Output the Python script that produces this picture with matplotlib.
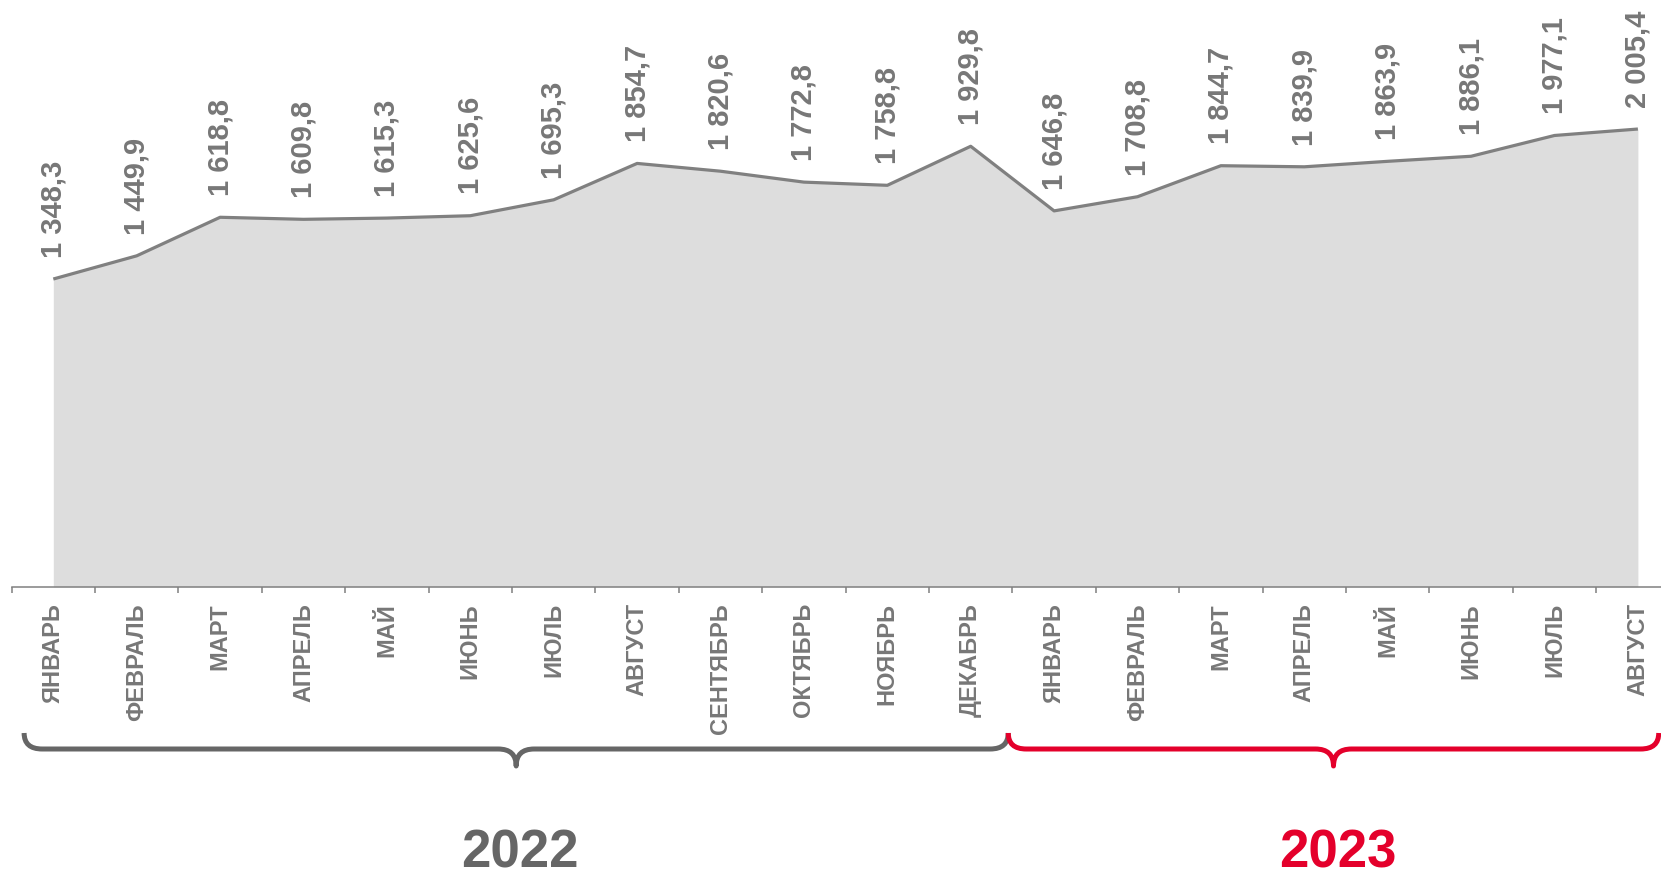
import matplotlib
matplotlib.use("Agg")
from matplotlib import pyplot as plt
from matplotlib.path import Path
from matplotlib.patches import PathPatch

plt.rcParams['font.family'] = ['Liberation Sans', 'DejaVu Sans']

# data
months = ["ЯНВАРЬ", "ФЕВРАЛЬ", "МАРТ", "АПРЕЛЬ", "МАЙ", "ИЮНЬ", "ИЮЛЬ", "АВГУСТ",
          "СЕНТЯБРЬ", "ОКТЯБРЬ", "НОЯБРЬ", "ДЕКАБРЬ",
          "ЯНВАРЬ", "ФЕВРАЛЬ", "МАРТ", "АПРЕЛЬ", "МАЙ", "ИЮНЬ", "ИЮЛЬ", "АВГУСТ"]
values = [1348.3, 1449.9, 1618.8, 1609.8, 1615.3, 1625.6, 1695.3, 1854.7,
          1820.6, 1772.8, 1758.8, 1929.8,
          1646.8, 1708.8, 1844.7, 1839.9, 1863.9, 1886.1, 1977.1, 2005.4]
years = ["2022", "2023"]
year_spans = [(-0.35, 11.45), (11.45, 19.25)]   # in category units

W, H = 1661, 878
GRAY_TXT = "#777777"
LINE_C = "#808080"
FILL_C = "#dddddd"
YEAR_COLORS = ["#666666", "#e4002b"]


def fmt(v):
    s = "{:,.1f}".format(v)
    return s.replace(",", " ").replace(".", ",")


fig = plt.figure(figsize=(W / 100, H / 100), dpi=100)
ax = fig.add_axes([11.6 / W, (H - 587.8) / H, 20 * 83.4 / W, 587.8 / H])

x = list(range(len(values)))
ax.fill_between(x, 0, values, color=FILL_C, lw=0, zorder=1)
ax.plot(x, values, color=LINE_C, lw=2.3, zorder=2, solid_capstyle="butt")

for xi, v in zip(x, values):
    ax.annotate(fmt(v), (xi, v), xytext=(0, 16), textcoords="offset points",
                rotation=90, ha="center", va="bottom", fontsize=21,
                fontweight="bold", color=GRAY_TXT)

ax.set_xlim(-0.5, len(values) - 0.5)
ax.set_ylim(0, 2575)
ax.set_yticks([])
for side in ["left", "right", "top"]:
    ax.spines[side].set_visible(False)
ax.spines["bottom"].set_color(LINE_C)
ax.spines["bottom"].set_linewidth(1.1)
ax.patch.set_alpha(0)

ax.set_xticks(x)
ax.set_xticklabels(months, rotation=90, fontsize=17, fontweight="bold", color=GRAY_TXT)
ax.tick_params(axis="x", which="major", length=0, pad=11)
ax.set_xticks([i - 0.5 for i in range(len(values) + 1)], minor=True)
ax.tick_params(axis="x", which="minor", length=4.5, width=1.1, color=LINE_C, direction="out")

# overlay in pixel coordinates for braces and years
ov = fig.add_axes([0, 0, 1, 1])
ov.set_xlim(0, W)
ov.set_ylim(H, 0)
ov.axis("off")
ov.patch.set_alpha(0)


def px(xc):
    return 11.6 + (xc + 0.5) * 83.4


yf, yt, yb, r = 750, 734, 767, 18
for (a, b), yr, col in zip(year_spans, years, YEAR_COLORS):
    x0, x1 = px(a), px(b)
    xm = (x0 + x1) / 2
    verts = [(x0, yt), (x0, yf), (x0 + r, yf),
             (xm - r, yf), (xm, yf), (xm, yb),
             (xm, yf), (xm + r, yf),
             (x1 - r, yf), (x1, yf), (x1, yt)]
    codes = [Path.MOVETO, Path.CURVE3, Path.CURVE3,
             Path.LINETO, Path.CURVE3, Path.CURVE3,
             Path.CURVE3, Path.CURVE3,
             Path.LINETO, Path.CURVE3, Path.CURVE3]
    ov.add_patch(PathPatch(Path(verts, codes), fill=False, edgecolor=col,
                           lw=3.6, capstyle="butt", joinstyle="round"))
    ov.text(xm + 4, 854, yr, ha="center", va="center", fontsize=38,
            fontweight="bold", color=col)

fig.savefig("out.png", dpi=100)
